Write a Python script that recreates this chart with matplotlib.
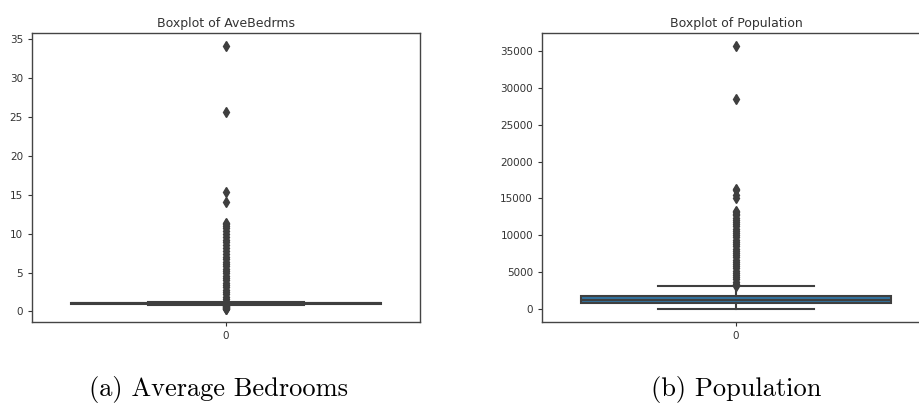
import matplotlib.pyplot as plt

# Box statistics
bed_stats = {'whislo': 0.87, 'q1': 1.006, 'med': 1.049, 'q3': 1.10, 'whishi': 1.24}
bed_fliers = [0.33, 0.38, 0.44, 0.50, 0.56, 0.62, 0.68, 0.74, 0.80, 0.85,
              1.30, 1.6, 1.9, 2.2, 2.5, 2.8, 3.1, 3.4, 3.7, 4.0, 4.3, 4.6,
              4.9, 5.2, 5.5, 5.8, 6.1, 6.4, 6.7, 7.0, 7.4, 7.8, 8.1, 8.5,
              8.9, 9.2, 9.6, 10.0, 10.3, 10.7, 11.0, 11.2, 11.4,
              14.1, 15.3, 25.6, 34.1]

pop_stats = {'whislo': 3, 'q1': 787, 'med': 1166, 'q3': 1725, 'whishi': 3132}
pop_fliers = [3140, 3400, 3700, 4000, 4300, 4600, 4900, 5200, 5500, 5800,
              6100, 6400, 6700, 7000, 7300, 7600, 7900, 8200, 8500, 8800,
              9100, 9400, 9700, 10000, 10300, 10600, 10900, 11200, 11500,
              11800, 12100, 12400, 12700, 12900, 13100, 13250,
              15037, 15507, 16122, 16305, 28566, 35682]

titles = ['Boxplot of AveBedrms', 'Boxplot of Population']
captions = ['(a) Average Bedrooms', '(b) Population']

box_color = '#3274a1'
line_color = '#3f3f3f'

fig = plt.figure(figsize=(9.19, 4.05), dpi=100)
ax1 = fig.add_axes([0.0348, 0.2049, 0.4222, 0.7136])
ax2 = fig.add_axes([0.5898, 0.2049, 0.4222, 0.7136])

for ax, stats, fliers, title in [(ax1, bed_stats, bed_fliers, titles[0]),
                                 (ax2, pop_stats, pop_fliers, titles[1])]:
    s = dict(stats)
    s['fliers'] = fliers
    ax.bxp([s], positions=[0], widths=0.8, patch_artist=True,
           boxprops=dict(facecolor=box_color, edgecolor=line_color, linewidth=1.5),
           medianprops=dict(color=line_color, linewidth=1.5),
           whiskerprops=dict(color=line_color, linewidth=1.5),
           capprops=dict(color=line_color, linewidth=1.5),
           capwidths=0.4,
           flierprops=dict(marker='d', markerfacecolor=line_color,
                           markeredgecolor=line_color, markersize=5))
    ax.set_xlim(-0.5, 0.5)
    ax.set_xticks([0])
    ax.set_xticklabels(['0'])
    ax.set_title(title, fontsize=9, color='#333333', pad=4)
    ax.tick_params(labelsize=7.5, colors='#333333', length=3)
    for sp in ax.spines.values():
        sp.set_color('#444444')
        sp.set_linewidth(1.0)

ax1.set_ylim(-1.35, 35.75)
ax1.set_yticks([0, 5, 10, 15, 20, 25, 30, 35])
ax2.set_ylim(-1780, 37460)
ax2.set_yticks([0, 5000, 10000, 15000, 20000, 25000, 30000, 35000])

# captions below the panels (LaTeX-like serif)
fig.text(0.2375, 0.022, captions[0], fontfamily='cmr10', fontsize=19, ha='center', va='baseline')
fig.text(0.8015, 0.022, captions[1], fontfamily='cmr10', fontsize=19, ha='center', va='baseline')

fig.savefig('out.png', dpi=100)
